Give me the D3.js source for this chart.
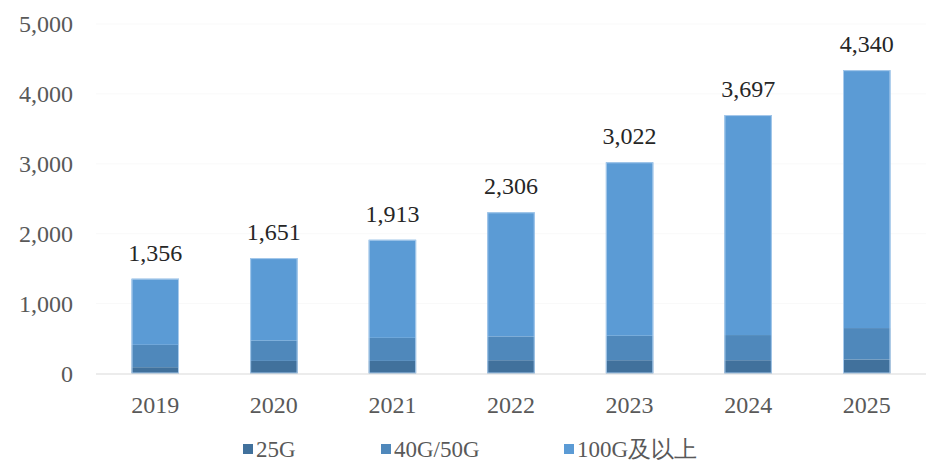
<!DOCTYPE html>
<html>
<head>
  <meta charset="utf-8">
  <script src="https://d3js.org/d3.v7.min.js"></script>
  <style>
    body { margin: 0; background: #fff; }
    text { font-family: "Liberation Serif", "Times New Roman", serif; }
  </style>
</head>
<body>
<script>
  // data
  var years = ["2019", "2020", "2021", "2022", "2023", "2024", "2025"];
  var totals = [1356, 1651, 1913, 2306, 3022, 3697, 4340];
  var g25 = [90, 180, 180, 190, 190, 190, 200];
  var g40 = [320, 290, 330, 340, 350, 360, 450];
  var g100 = totals.map(function(t, i) { return t - g25[i] - g40[i]; });
  var seriesNames = ["25G", "40G/50G", "100G及以上"];
  var yTicks = [0, 1000, 2000, 3000, 4000, 5000];

  var colors = ["#41719c", "#4f88bb", "#5b9bd5"];

  var width = 928, height = 463;
  var svg = d3.select("body").append("svg")
      .attr("width", width)
      .attr("height", height);

  var x = d3.scaleBand()
      .domain(years)
      .range([96, 926])
      .paddingInner(0.6)
      .paddingOuter(0.3);

  var y = d3.scaleLinear()
      .domain([0, 5000])
      .range([373.5, 24]);

  // gridlines, barely visible in the original
  svg.append("g")
    .selectAll("line")
    .data(yTicks.slice(1))
    .enter().append("line")
      .attr("x1", 96).attr("x2", 926)
      .attr("y1", function(d) { return y(d); })
      .attr("y2", function(d) { return y(d); })
      .attr("stroke", "#f9f9f9");

  var rows = years.map(function(yr, i) {
    return { year: yr, "25G": g25[i], "40G/50G": g40[i], "100G及以上": g100[i] };
  });
  var stack = d3.stack().keys(seriesNames)(rows);

  svg.append("g")
    .selectAll("g")
    .data(stack)
    .enter().append("g")
      .attr("fill", function(d, i) { return colors[i]; })
    .selectAll("rect")
    .data(function(d) { return d; })
    .enter().append("rect")
      .attr("x", function(d) { return x(d.data.year); })
      .attr("width", x.bandwidth())
      .attr("y", function(d) { return y(d[1]); })
      .attr("height", function(d) { return y(d[0]) - y(d[1]); });

  // thin light outline round each bar
  svg.append("g")
    .selectAll("rect")
    .data(years)
    .enter().append("rect")
      .attr("x", function(d) { return x(d) + 0.5; })
      .attr("width", x.bandwidth() - 1)
      .attr("y", function(d, i) { return y(totals[i]) + 0.5; })
      .attr("height", function(d, i) { return y(0) - y(totals[i]) - 1; })
      .attr("fill", "none")
      .attr("stroke", "#a9cbec")
      .attr("stroke-width", 1);

  // baseline
  svg.append("line")
    .attr("x1", 96).attr("x2", 926)
    .attr("y1", y(0) + 0.5).attr("y2", y(0) + 0.5)
    .attr("stroke", "#d9d9d9");

  // y axis labels
  var fmt = d3.format(",");
  svg.append("g")
    .selectAll("text")
    .data(yTicks)
    .enter().append("text")
      .attr("x", 73)
      .attr("y", function(d) { return y(d); })
      .attr("dy", "0.35em")
      .attr("text-anchor", "end")
      .attr("font-size", 24)
      .attr("fill", "#595959")
      .text(fmt);

  // x axis labels
  svg.append("g")
    .selectAll("text")
    .data(years)
    .enter().append("text")
      .attr("x", function(d) { return x(d) + x.bandwidth() / 2; })
      .attr("y", 405)
      .attr("dy", "0.35em")
      .attr("text-anchor", "middle")
      .attr("font-size", 24)
      .attr("fill", "#595959")
      .text(function(d) { return d; });

  // totals above bars
  svg.append("g")
    .selectAll("text")
    .data(totals)
    .enter().append("text")
      .attr("x", function(d, i) { return x(years[i]) + x.bandwidth() / 2; })
      .attr("y", function(d) { return y(d) - 18; })
      .attr("text-anchor", "middle")
      .attr("font-size", 24)
      .attr("fill", "#262626")
      .text(fmt);

  // legend
  var legendX = [243, 381, 564];
  var legend = svg.append("g")
    .selectAll("g")
    .data(seriesNames)
    .enter().append("g")
      .attr("transform", function(d, i) { return "translate(" + legendX[i] + ",449)"; });
  legend.append("rect")
    .attr("x", 0).attr("y", -5)
    .attr("width", 10).attr("height", 10)
    .attr("fill", function(d, i) { return colors[i]; });
  legend.append("text")
    .attr("x", 13)
    .attr("dy", "0.35em")
    .attr("font-size", 23)
    .attr("fill", "#595959")
    .text(function(d) { return d; });
</script>
</body>
</html>
